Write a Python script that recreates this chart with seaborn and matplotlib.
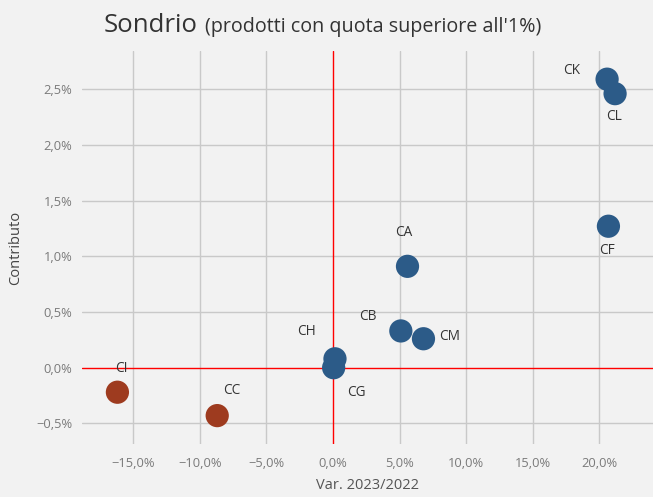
import matplotlib
matplotlib.use("Agg")
import matplotlib.pyplot as plt
import seaborn as sns
import pandas as pd
import numpy as np

codes = ["CK", "CL", "CF", "CA", "CB", "CM", "CH", "CG", "CC", "CI"]
var_2023_2022 = [20.6, 21.2, 20.7, 5.6, 5.1, 6.8, 0.15, 0.05, -8.7, -16.2]
contributo = [2.59, 2.46, 1.27, 0.91, 0.33, 0.26, 0.08, 0.00, -0.43, -0.22]
x_ticks = [-15, -10, -5, 0, 5, 10, 15, 20]
y_ticks = [-0.5, 0.0, 0.5, 1.0, 1.5, 2.0, 2.5]

df = pd.DataFrame({"code": codes, "x": var_2023_2022, "y": contributo})
df["segno"] = np.where(df["y"] < 0, "neg", "pos")

label_offsets = {"CK": (-35, 9), "CL": (-1, -23), "CF": (-1, -24), "CA": (-4, 34),
                 "CB": (-33, 14), "CM": (26, 2), "CH": (-28, 27), "CG": (23, -25),
                 "CC": (15, 25), "CI": (4, 24)}

sns.set_theme(style="whitegrid")
plt.rcParams["font.family"] = ["Open Sans", "DejaVu Sans"]

bg = "#f2f2f2"
fig = plt.figure(figsize=(6.53, 4.97), dpi=100, facecolor=bg)
ax = fig.add_axes([0.1256, 0.1066, 0.8744, 0.7908])
ax.set_facecolor(bg)

sns.scatterplot(data=df, x="x", y="y", hue="segno",
                palette={"pos": "#2c5b88", "neg": "#9e3b1f"},
                s=280, edgecolor="none", legend=False, ax=ax, zorder=3)

ax.set_xlim(-18.86, 24.05)
ax.set_ylim(-0.685, 2.843)
ax.set_xticks(x_ticks)
ax.set_yticks(y_ticks)
ax.set_xticklabels([("%.1f%%" % v).replace(".", ",").replace("-", "\u2212") for v in x_ticks])
ax.set_yticklabels([("%.1f%%" % v).replace(".", ",").replace("-", "\u2212") for v in y_ticks])
ax.tick_params(axis="both", labelsize=9.3, labelcolor="#7a7a7a", length=0)
ax.tick_params(axis="x", pad=9)
ax.tick_params(axis="y", pad=7)
ax.grid(True, color="#c9c9c9", linewidth=1)
ax.xaxis.get_gridlines()[x_ticks.index(0)].set_visible(False)
ax.yaxis.get_gridlines()[y_ticks.index(0.0)].set_visible(False)
for s in ax.spines.values():
    s.set_visible(False)
ax.axhline(0, color="#ff0000", linewidth=1, zorder=2)
ax.axvline(0, color="#ff0000", linewidth=1, zorder=2)

for _, r in df.iterrows():
    dx, dy = label_offsets[r["code"]]
    ax.annotate(r["code"], (r["x"], r["y"]), xytext=(dx, dy), textcoords="offset pixels",
                ha="center", va="center", fontsize=9.8, color="#333333", zorder=4)

ax.set_xlabel("Var. 2023/2022", fontsize=10.5, color="#555555")
ax.xaxis.set_label_coords(0.5, -0.105)
ax.xaxis.label.set_va("center")
ax.set_ylabel("Contributo", fontsize=10.5, color="#444444")
ax.yaxis.set_label_coords(-0.116, 0.5)
ax.yaxis.label.set_va("center")

fig.text(0.158, 0.936, "Sondrio", fontsize=18.5, color="#333333", ha="left", va="baseline")
fig.text(0.314, 0.936, "(prodotti con quota superiore all'1%)", fontsize=14.2, color="#333333",
         ha="left", va="baseline")

fig.savefig("out.png", dpi=100, facecolor=bg)
